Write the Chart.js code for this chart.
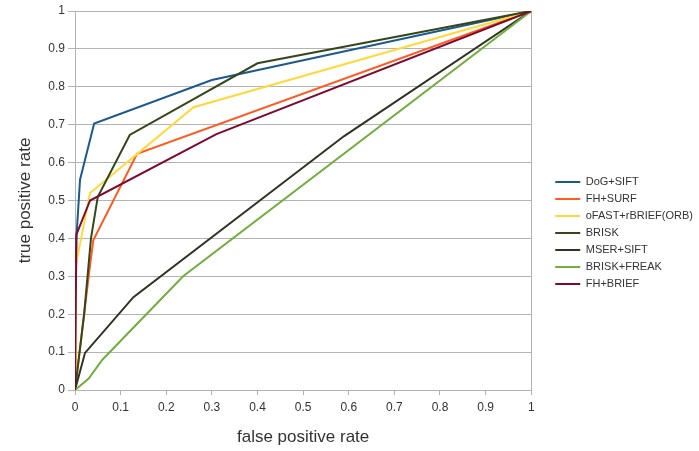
<!DOCTYPE html>
<html>
<head>
<meta charset="utf-8">
<script src="https://cdn.jsdelivr.net/npm/chart.js@4"></script>
<style>
  html, body { margin: 0; padding: 0; background: #fff; }
  #wrap { width: 699px; height: 451px; }
</style>
</head>
<body>
<div id="wrap"><canvas id="rocChart"></canvas></div>
<script>
// series names, in legend order
var seriesNames = ['DoG+SIFT', 'FH+SURF', 'oFAST+rBRIEF(ORB)', 'BRISK', 'MSER+SIFT', 'BRISK+FREAK', 'FH+BRIEF'];
var seriesColors = ['#1a5a8e', '#ff5a22', '#ffd93a', '#34461a', '#2f3324', '#72ad3e', '#7e0a2e'];

// ROC points (false positive rate / true positive rate)
var dogSiftFpr = [0, 0.003, 0.011, 0.042, 0.30, 1];
var dogSiftTpr = [0, 0.40, 0.555, 0.703, 0.818, 1];

var fhSurfFpr = [0, 0.01, 0.03, 0.04, 0.136, 1];
var fhSurfTpr = [0, 0.10, 0.30, 0.395, 0.623, 1];

var orbFpr = [0, 0.002, 0.033, 0.26, 1];
var orbTpr = [0, 0.33, 0.52, 0.746, 1];

var briskFpr = [0, 0.02, 0.035, 0.05, 0.12, 0.40, 1];
var briskTpr = [0, 0.20, 0.40, 0.51, 0.673, 0.862, 1];

var mserSiftFpr = [0, 0.022, 0.128, 0.59, 1];
var mserSiftTpr = [0, 0.098, 0.245, 0.67, 1];

var briskFreakFpr = [0, 0.03, 0.06, 0.237, 1];
var briskFreakTpr = [0, 0.03, 0.08, 0.30, 1];

var fhBriefFpr = [0, 0.003, 0.033, 0.31, 1];
var fhBriefTpr = [0, 0.41, 0.50, 0.675, 1];

var xTitle = 'false positive rate';
var yTitle = 'true positive rate';

var allFpr = [dogSiftFpr, fhSurfFpr, orbFpr, briskFpr, mserSiftFpr, briskFreakFpr, fhBriefFpr];
var allTpr = [dogSiftTpr, fhSurfTpr, orbTpr, briskTpr, mserSiftTpr, briskFreakTpr, fhBriefTpr];

var gridGray = '#b3b3b3';
var textGray = '#333333';
var fontFamily = '"Liberation Sans", Arial, sans-serif';

// build datasets, last series drawn on top
var datasets = seriesNames.map(function(name, i) {
    return {
        label: name,
        data: allFpr[i].map(function(x, j) { return { x: x, y: allTpr[i][j] }; }),
        borderColor: seriesColors[i],
        backgroundColor: seriesColors[i],
        borderWidth: 2,
        pointRadius: 0,
        tension: 0,
        fill: false,
        order: seriesNames.length - i
    };
});

// nudge the legend to where it sits in the original
var legendShift = {
    id: 'legendShift',
    afterLayout: function(chart) {
        var lg = chart.legend;
        if (!lg) return;
        lg.top += 2;
        lg.bottom += 2;
        lg.left += 18;
        lg.right += 18;
    }
};

// 0, 0.1 ... 1 without trailing zeros
function tickLabel(value) {
    return String(Math.round(value * 10) / 10);
}

var ctx = document.getElementById('rocChart').getContext('2d');
var rocChart = new Chart(ctx, {
    type: 'line',
    data: { datasets: datasets },
    plugins: [legendShift],
    options: {
        responsive: true,
        maintainAspectRatio: false,
        animation: false,
        layout: { padding: { left: 0, right: 14, top: 11, bottom: 0 } },
        plugins: {
            tooltip: { enabled: false },
            legend: {
                position: 'right',
                labels: {
                    usePointStyle: true,
                    pointStyle: 'line',
                    pointStyleWidth: 25,
                    padding: 6,
                    color: textGray,
                    font: { family: fontFamily, size: 11 },
                    sort: function(a, b) { return a.datasetIndex - b.datasetIndex; }
                }
            }
        },
        scales: {
            x: {
                type: 'linear',
                min: 0,
                max: 1,
                afterFit: function(scale) { scale.height = 61; },
                ticks: {
                    stepSize: 0.1,
                    padding: 5,
                    maxRotation: 0,
                    color: textGray,
                    font: { family: fontFamily, size: 12 },
                    callback: tickLabel
                },
                grid: {
                    color: function(c) { return c.tick && c.tick.value === 1 ? gridGray : 'rgba(0,0,0,0)'; },
                    tickColor: gridGray,
                    tickLength: 5
                },
                border: { color: gridGray },
                title: {
                    display: true,
                    text: xTitle,
                    color: textGray,
                    font: { family: fontFamily, size: 17 },
                    padding: { top: 0, bottom: 3 }
                }
            },
            y: {
                type: 'linear',
                min: 0,
                max: 1,
                afterFit: function(scale) { scale.width = 75; },
                ticks: {
                    stepSize: 0.1,
                    padding: 3,
                    color: textGray,
                    font: { family: fontFamily, size: 12 },
                    callback: tickLabel
                },
                grid: {
                    color: gridGray,
                    tickColor: gridGray,
                    tickLength: 7
                },
                border: { color: gridGray },
                title: {
                    display: true,
                    text: yTitle,
                    color: textGray,
                    font: { family: fontFamily, size: 17 },
                    padding: { top: 15, bottom: 0 }
                }
            }
        }
    }
});
</script>
</body>
</html>
